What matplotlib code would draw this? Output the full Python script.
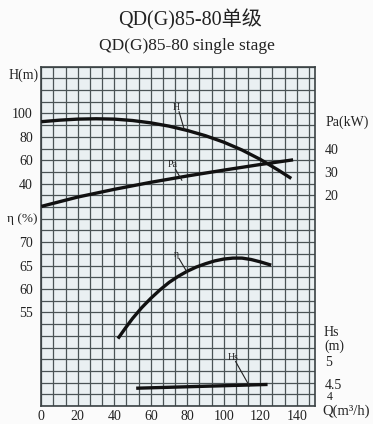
import matplotlib
matplotlib.use("Agg")
import matplotlib.pyplot as plt
import numpy as np

# ---- data ----
q_h = [0, 10, 20, 30, 40, 50, 60, 70, 80, 90, 100, 110, 120, 130, 137]
head = [93, 94.3, 95.2, 95.5, 95.2, 94, 92, 89.2, 85.5, 81, 75.5, 68.8, 60.8, 51.5, 44.5]

q_pa = [0, 20, 40, 60, 80, 100, 120, 138]
power = [15.3, 19.3, 22.6, 25.6, 28.3, 30.8, 33.2, 35.2]

q_eta = [42, 46, 50, 55, 60, 65, 70, 75, 80, 85, 90, 95, 100, 105, 110, 115, 120, 126]
eta = [49.4, 51.6, 53.7, 56, 58, 59.8, 61.4, 62.7, 63.8, 64.7, 65.4, 66, 66.4, 66.6, 66.6, 66.3, 65.8, 65.1]

q_hs = [52, 124]
hs = [4.38, 4.46]

q_ticks = [0, 20, 40, 60, 80, 100, 120, 140]
h_ticks = [40, 60, 80, 100]
eta_ticks = [55, 60, 65, 70]
pa_ticks = [20, 30, 40]
hs_ticks = [4, 4.5, 5]

# ---- mapping of each quantity onto the shared grid (cell units) ----
def h_cell(v): return 15 + np.asarray(v, float) / 10
def eta_cell(v): return np.asarray(v, float) / 2.5 - 14
def pa_cell(v): return 14 + np.asarray(v, float) / 5
def hs_cell(v): return (np.asarray(v, float) - 4) * 4

serif = ['Liberation Serif', 'Noto Sans CJK SC', 'DejaVu Sans']
plt.rcParams['font.family'] = serif

W, H = 373, 424
fig = plt.figure(figsize=(W / 100, H / 100), dpi=100)
fig.patch.set_facecolor('#fbfbfb')
x0, x1, y0, y1 = 41.3, 315, 66.7, 406
ax = fig.add_axes([x0 / W, 1 - y1 / H, (x1 - x0) / W, (y1 - y0) / H])
ax.set_xlim(0, 150)
ax.set_ylim(0, 29)
ax.set_facecolor('#eaf0f2')

gc = '#4a5355'
for xv in np.arange(0, 150.01, 20 / 3):
    ax.axvline(xv, color=gc, lw=0.9, zorder=1)
for yv in range(0, 30):
    ax.axhline(yv, color=gc, lw=0.9, zorder=1)
for s in ax.spines.values():
    s.set_color('#3a4244')
    s.set_linewidth(1.2)

lw = 2.4
kw = dict(color='#111111', lw=lw, zorder=3, solid_capstyle='butt', solid_joinstyle='round')
ax.plot(q_h, h_cell(head), **kw)
ax.plot(q_pa, pa_cell(power), **kw)
ax.plot(q_eta, eta_cell(eta), **kw)
ax.plot(q_hs, hs_cell(hs), **kw)

# ticks
ax.set_xticks(q_ticks)
ax.set_xticklabels([str(v) for v in q_ticks])
left_pos = list(h_cell(h_ticks)) + list(eta_cell(eta_ticks))
left_lab = [str(v) for v in h_ticks] + [str(v) for v in eta_ticks]
ax.set_yticks(left_pos)
ax.set_yticklabels(left_lab)
ax.tick_params(axis='both', length=0, labelsize=10, colors='#222222')
ax.tick_params(axis='x', pad=3)
ax.tick_params(axis='y', pad=6)

ax2 = ax.twinx()
ax2.set_ylim(0, 29)
right_pos = list(pa_cell(pa_ticks)) + list(hs_cell([4.5, 5]) - 0.15)
right_lab = [str(v) for v in pa_ticks] + ['4.5', '5']
ax2.set_yticks(right_pos)
ax2.set_yticklabels(right_lab)
ax2.tick_params(axis='y', length=0, labelsize=10, pad=7, colors='#222222')
for s in ax2.spines.values():
    s.set_visible(False)

tc = '#222222'
def ftext(x, y, s, **kw):
    fig.text(x / W, 1 - y / H, s, color=tc, **kw)

ftext(190, 20, 'QD(G)85-80单级', ha='center', va='center', fontsize=14.5)
ftext(187, 46, 'QD(G)85-80 single stage', ha='center', va='center', fontsize=12.5)
ftext(24, 75, 'H(m)', ha='center', va='center', fontsize=10)
ftext(22, 219, 'η (%)', ha='center', va='center', fontsize=9.5)
ftext(347, 122, 'Pa(kW)', ha='center', va='center', fontsize=10)
ftext(324, 332, 'Hs', ha='left', va='center', fontsize=10)
ftext(324, 346, '(m)', ha='left', va='center', fontsize=10)
ftext(327, 397, '4', ha='left', va='center', fontsize=8.5)
ftext(322, 411, 'Q(m³/h)', ha='left', va='center', fontsize=10.5)

# curve name labels with leader lines (in data coordinates)
def tag(label, tx, ty, ex, ey):
    ax.text(tx, ty, label, fontsize=7, ha='center', va='bottom', color=tc, zorder=4)
    ax.plot([tx + 1.5, ex], [ty, ey], color=tc, lw=0.8, zorder=4)

tag('H', 74, h_cell(101.5), 78.3, h_cell(86.5))
tag('Pa', 72, pa_cell(31.2), 77, pa_cell(26.5))
tag('η', 74, eta_cell(66.5), 80, eta_cell(63.5))
tag('Hs', 105, hs_cell(4.95), 114, hs_cell(4.43))

fig.savefig('out.png', dpi=100, facecolor=fig.get_facecolor())
